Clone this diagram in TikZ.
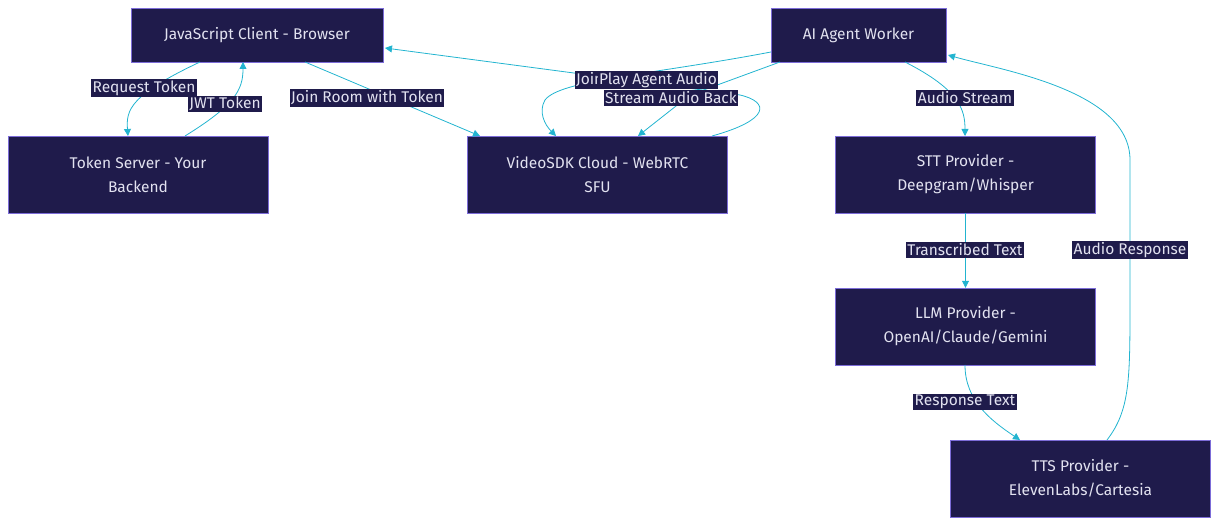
\documentclass[tikz,border=0pt]{standalone}
\usepackage{fontspec}
\setmainfont{Fira Sans}
\usetikzlibrary{arrows.meta}
\definecolor{boxfill}{RGB}{31,27,75}
\definecolor{boxline}{RGB}{124,108,216}
\definecolor{boxtext}{RGB}{226,226,240}
\definecolor{flow}{RGB}{34,180,208}
\tikzset{
  box/.style={draw=boxline,fill=boxfill,text=boxtext,inner sep=0pt,align=center,
    font=\fontsize{15.5}{24}\selectfont},
  lbl/.style={fill=boxfill,text=boxtext,inner sep=1.5pt,font=\fontsize{15.5}{17}\selectfont},
  flw/.style={draw=flow,line width=0.8pt,-{Triangle[length=7pt,width=7pt]}},
}
\begin{document}
\begin{tikzpicture}[x=1pt,y=-1pt]
  \useasboundingbox (0,0) rectangle (1219,526);
  % boxes
  \node[box,minimum width=252pt,minimum height=54pt] (client) at (257,35) {JavaScript Client - Browser};
  \node[box,minimum width=175pt,minimum height=54pt] (agent) at (858.5,35) {AI Agent Worker};
  \node[box,minimum width=260pt,minimum height=77pt] (token) at (138,174.5) {Token Server - Your\\Backend};
  \node[box,minimum width=260pt,minimum height=77pt] (vsdk) at (597.5,174.5) {VideoSDK Cloud - WebRTC\\SFU};
  \node[box,minimum width=260pt,minimum height=77pt] (stt) at (965.5,174.5) {STT Provider -\\Deepgram/Whisper};
  \node[box,minimum width=260pt,minimum height=77pt] (llm) at (965.5,326.5) {LLM Provider -\\OpenAI/Claude/Gemini};
  \node[box,minimum width=260pt,minimum height=77pt] (tts) at (1080.5,478.5) {TTS Provider -\\ElevenLabs/Cartesia};
  % client <-> token
  \draw[flw] (200,62) .. controls (130,95) and (126,110) .. (128,136);
  \draw[flw] (185,136) .. controls (235,105) and (243,90) .. (243,62);
  % client -> cloud
  \draw[flw] (305,62) -- (480,136);
  % agent <-> cloud
  \draw[flw] (771,52) .. controls (650,75) and (560,80) .. (545,100) .. controls (538,112) and (545,125) .. (556,136);
  \draw[flw] (712,136) .. controls (770,120) and (770,102) .. (740,95) -- (385,48);
  \draw[flw] (780,62) -- (690,95) -- (638,136);
  % pipeline
  \draw[flw] (905,62) .. controls (960,90) and (965,110) .. (965,136);
  \draw[flw] (stt) -- (llm);
  \draw[flw] (965,365) .. controls (965,400) and (990,420) .. (1020,440);
  \draw[flw] (1107,440) .. controls (1130,410) and (1130,380) .. (1130,300) -- (1130,160) .. controls (1130,90) and (1000,70) .. (948,55);
  % labels
  \node[lbl] (l1) at (144,88) {Request Token};
  \node[lbl] (l2) at (225,104) {JWT Token};
  \node[lbl] (l3) at (367,98) {Join Room with Token};
  \node[lbl] (l4) at (612,80) {Join Room};
  \node[lbl] (l5) at (671,98) {Stream Audio Back};
  \node[lbl] (l6) at (658,80) {Play Agent Audio};
  \node[lbl] (l7) at (965,98) {Audio Stream};
  \node[lbl] (l8) at (965,250) {Transcribed Text};
  \node[lbl] (l9) at (965,402) {Response Text};
  \node[lbl] (l10) at (1130,250) {Audio Response};
\end{tikzpicture}
\end{document}
